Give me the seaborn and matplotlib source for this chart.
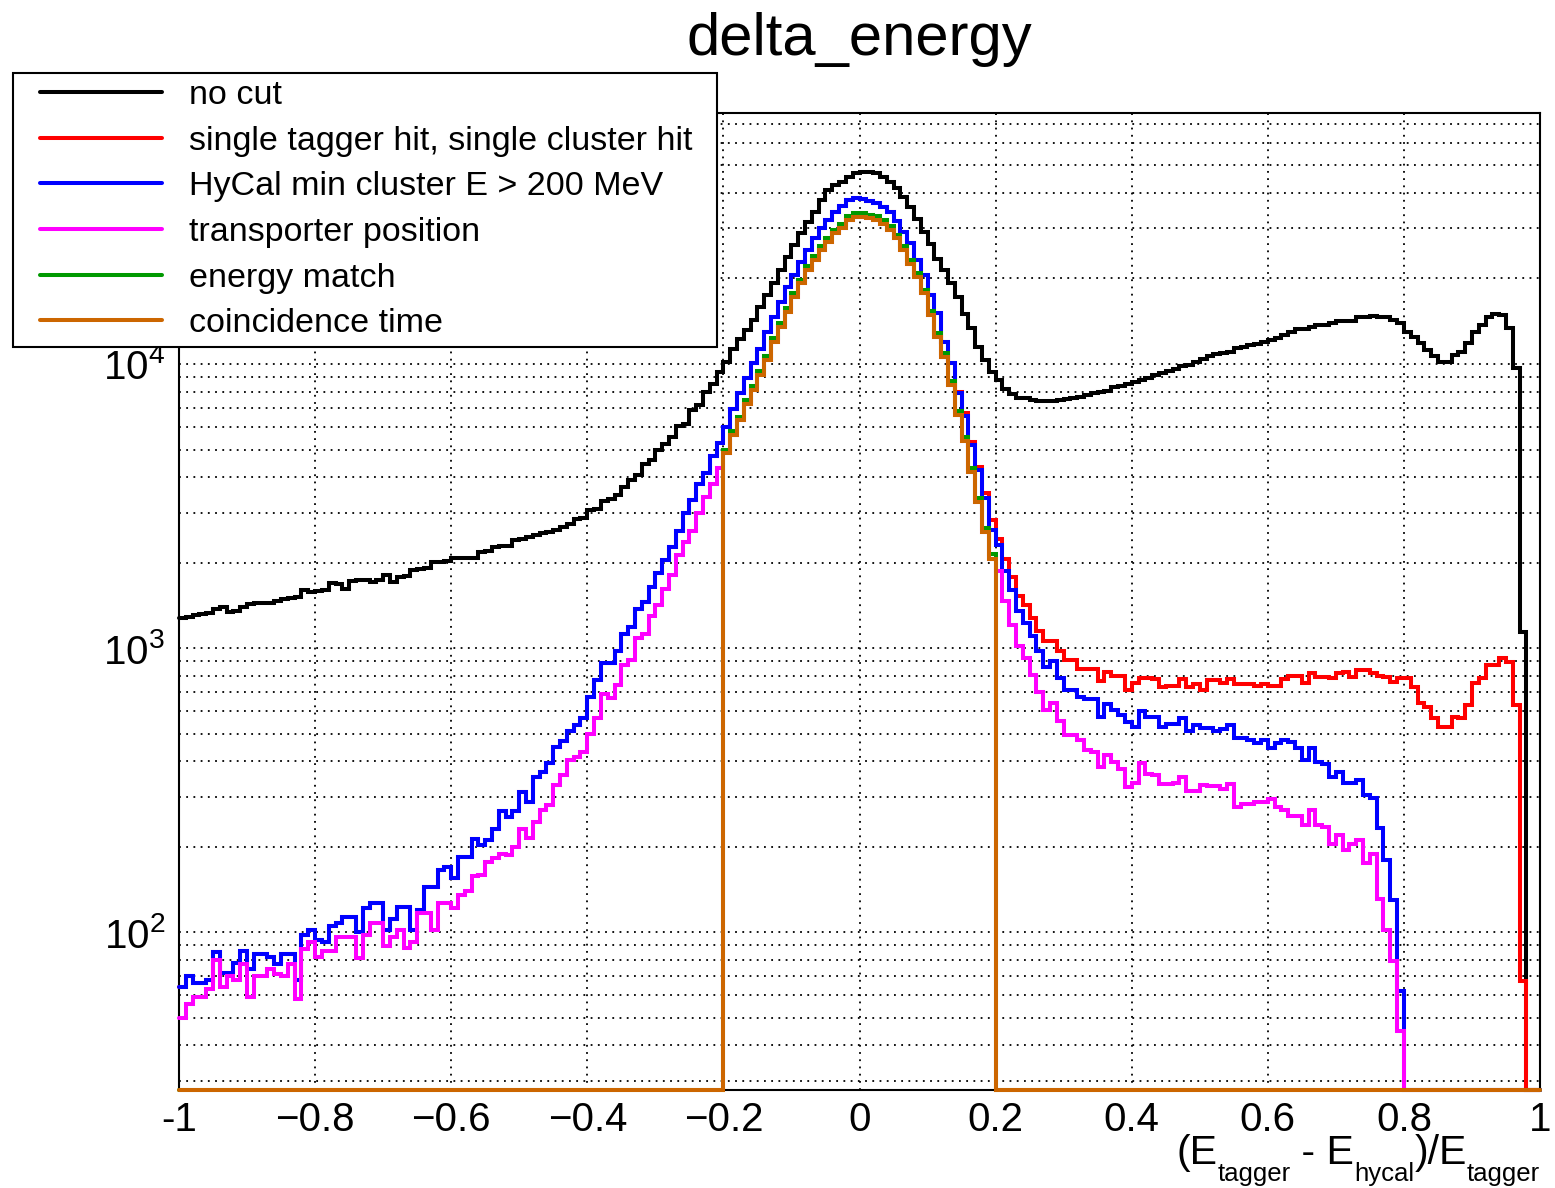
import numpy as np
import pandas as pd
import matplotlib
matplotlib.use("Agg")
import matplotlib.pyplot as plt
import seaborn as sns
from matplotlib.patches import Rectangle
from matplotlib.ticker import FixedLocator, MultipleLocator, LogLocator, NullFormatter

# ---------------- data (counts per bin, 200 bins from -1 to 1) ----------------
TITLE = "delta_energy"
# x-axis title pieces: (text, is_subscript)
X_LABEL_PARTS = [("(E", False), ("tagger", True), (" - E", False), ("hycal", True),
                 (")/E", False), ("tagger", True)]
LABELS = ["no cut", "single tagger hit, single cluster hit", "HyCal min cluster E > 200 MeV",
          "transporter position", "energy match", "coincidence time"]
COLORS = ["#000000", "#ff0000", "#0000ff", "#ff00ff", "#009900", "#cc6600"]
XTICKS = [-1.0, -0.8, -0.6, -0.4, -0.2, 0.0, 0.2, 0.4, 0.6, 0.8, 1.0]
XTICK_LABELS = ["-1", "\u22120.8", "\u22120.6", "\u22120.4", "\u22120.2", "0", "0.2", "0.4", "0.6", "0.8", "1"]
X_RANGE = (-1.0, 1.0)
N_BINS = 200

no_cut = [
    1272, 1289, 1304, 1314, 1331, 1368, 1398, 1342, 1350, 1391,
    1429, 1444, 1444, 1437, 1464, 1484, 1496, 1508, 1600, 1578,
    1587, 1600, 1690, 1680, 1609, 1726, 1736, 1736, 1712, 1736,
    1807, 1712, 1774, 1793, 1882, 1897, 1908, 2013, 2013, 2029,
    2069, 2079, 2079, 2079, 2183, 2195, 2273, 2286, 2292, 2400,
    2414, 2466, 2500, 2534, 2567, 2603, 2674, 2733, 2835, 2879,
    3051, 3099, 3293, 3338, 3454, 3680, 3920, 4060, 4450, 4610,
    5000, 5240, 5530, 6050, 6160, 6870, 7200, 7950, 8530, 9350,
    10200, 11300, 12250, 13200, 14280, 15900, 17490, 19230, 21420, 23860,
    26230, 28850, 31700, 34360, 37770, 40960, 42670, 43840, 45650, 46940,
    47400, 47400, 46940, 45700, 43840, 41540, 38800, 35630, 32400, 29120,
    26470, 23500, 21420, 19230, 17250, 15050, 13350, 11500, 10330, 9390,
    8780, 8150, 7820, 7600, 7600, 7490, 7380, 7380, 7380, 7490,
    7530, 7600, 7660, 7770, 7920, 7990, 8040, 8320, 8390, 8510,
    8630, 8800, 8950, 9130, 9260, 9450, 9610, 9810, 9940, 10150,
    10380, 10680, 10830, 10920, 11050, 11360, 11460, 11680, 11790, 11950,
    12130, 12370, 12650, 13000, 13250, 13250, 13530, 13720, 13720, 13910,
    14170, 14170, 14170, 14600, 14680, 14760, 14680, 14600, 14290, 13910,
    13000, 12480, 11830, 11200, 10670, 10190, 10190, 10760, 11050, 11830,
    13000, 13720, 14680, 15000, 14880, 13350, 9660, 1142, 0, 0]

single_hit = [
    64, 70, 66, 66, 68, 85, 72, 72, 78, 86,
    74, 84, 84, 82, 77, 84, 84, 68, 98, 102,
    94, 92, 105, 108, 113, 113, 100, 122, 127, 127,
    102, 111, 123, 123, 102, 120, 144, 144, 165, 169,
    155, 184, 184, 213, 202, 211, 231, 266, 255, 266,
    312, 288, 352, 367, 394, 450, 470, 510, 535, 566,
    675, 769, 888, 888, 973, 1124, 1187, 1372, 1448, 1643,
    1832, 2043, 2277, 2583, 2987, 3329, 3780, 4130, 4750, 5250,
    6000, 6940, 7910, 8900, 10050, 11280, 13000, 14670, 16570, 18710,
    20580, 22920, 25200, 27700, 30040, 32140, 34370, 35900, 37800, 38320,
    38100, 37600, 36790, 35620, 34370, 31960, 29230, 26600, 23240, 20580,
    17490, 15080, 11980, 10100, 7950, 6700, 5330, 4350, 3510, 2820,
    2430, 2050, 1785, 1525, 1414, 1272, 1150, 1055, 1059, 973,
    907, 907, 844, 844, 844, 765, 821, 798, 798, 712,
    754, 787, 787, 781, 727, 737, 737, 781, 727, 745,
    712, 769, 769, 754, 778, 750, 750, 750, 733, 745,
    733, 733, 780, 800, 800, 751, 815, 792, 792, 782,
    815, 825, 792, 837, 837, 815, 797, 792, 760, 782,
    787, 731, 639, 621, 566, 528, 528, 573, 566, 630,
    751, 782, 871, 871, 920, 895, 630, 67, 0, 0]

min_cluster_e = [
    64, 70, 66, 66, 68, 85, 72, 72, 78, 86,
    74, 84, 84, 82, 77, 84, 84, 68, 98, 102,
    94, 92, 105, 108, 113, 113, 100, 122, 127, 127,
    102, 111, 123, 123, 102, 120, 144, 144, 165, 169,
    155, 184, 184, 213, 202, 211, 231, 266, 255, 266,
    312, 288, 352, 367, 394, 450, 470, 510, 535, 566,
    675, 769, 888, 888, 973, 1124, 1187, 1372, 1448, 1643,
    1832, 2043, 2277, 2583, 2987, 3329, 3780, 4130, 4750, 5250,
    6000, 6940, 7910, 8900, 10050, 11280, 13000, 14670, 16570, 18710,
    20580, 22920, 25200, 27700, 30040, 32140, 34370, 35900, 37800, 38320,
    38100, 37600, 36790, 35620, 34370, 31960, 29230, 26600, 23240, 20580,
    17490, 15080, 11980, 10060, 7890, 6570, 5190, 4240, 3370, 2600,
    2310, 1867, 1598, 1348, 1221, 1105, 973, 860, 897, 787,
    712, 712, 670, 661, 661, 573, 633, 607, 581, 549,
    527, 598, 573, 573, 527, 541, 541, 565, 512, 534,
    522, 522, 512, 520, 534, 484, 484, 476, 464, 474,
    443, 462, 474, 468, 443, 403, 443, 398, 390, 352,
    367, 334, 334, 343, 304, 296, 232, 179, 130, 62,
    0, 0, 0, 0, 0, 0, 0, 0, 0, 0,
    0, 0, 0, 0, 0, 0, 0, 0, 0, 0]

transporter = [
    50, 56, 59, 59, 63, 80, 64, 70, 68, 77,
    59, 70, 70, 74, 71, 70, 77, 58, 87, 92,
    82, 86, 86, 96, 96, 96, 81, 98, 108, 108,
    89, 96, 102, 88, 92, 117, 117, 102, 127, 127,
    122, 135, 140, 157, 159, 177, 183, 189, 187, 200,
    231, 214, 245, 269, 280, 330, 358, 402, 414, 431,
    499, 565, 690, 665, 741, 872, 904, 1084, 1124, 1299,
    1421, 1614, 1812, 2118, 2362, 2583, 2987, 3390, 3780, 4290,
    4850, 5620, 6330, 7220, 8110, 9180, 10330, 11980, 13530, 15280,
    17260, 19230, 21420, 23240, 25200, 26950, 28850, 30200, 32140, 33000,
    33000, 32600, 32140, 31100, 29630, 27700, 25200, 22560, 20300, 17740,
    14870, 12480, 10610, 8430, 6610, 5360, 4180, 3270, 2570, 2060,
    1860, 1470, 1204, 1020, 926, 806, 698, 607, 642, 552,
    495, 495, 474, 436, 430, 382, 421, 396, 375, 324,
    336, 393, 361, 356, 331, 331, 336, 351, 313, 313,
    329, 327, 327, 318, 331, 276, 283, 283, 288, 288,
    293, 276, 269, 256, 256, 238, 269, 238, 235, 204,
    220, 195, 205, 211, 175, 189, 131, 102, 79, 45,
    0, 0, 0, 0, 0, 0, 0, 0, 0, 0,
    0, 0, 0, 0, 0, 0, 0, 0, 0, 0]

energy_match = [0] * 80 + [
    5000, 5790, 6520, 7440, 8350, 9460, 10640, 12340, 13940, 15740,
    17780, 19810, 22060, 23940, 25960, 27760, 29720, 31110, 33100, 33990,
    33990, 33580, 33100, 32030, 30520, 28530, 25960, 23240, 20910, 18270,
    15320, 12850, 10930, 8680, 6810, 5520, 4310, 3370, 2650, 2140] + [0] * 80

coincidence = [0] * 80 + [
    4850, 5620, 6330, 7220, 8110, 9180, 10330, 11980, 13530, 15280,
    17260, 19230, 21420, 23240, 25200, 26950, 28850, 30200, 32140, 33000,
    33000, 32600, 32140, 31100, 29630, 27700, 25200, 22560, 20300, 17740,
    14870, 12480, 10610, 8430, 6610, 5360, 4180, 3270, 2570, 2060] + [0] * 80

SERIES = [no_cut, single_hit, min_cluster_e, transporter, energy_match, coincidence]

# ---------------- style / layout ----------------
W, H = 1555, 1188
Y_MIN, Y_MAX = 27.8, 76500.0

sns.set_style("white")
plt.rcParams["font.family"] = ["Liberation Sans", "DejaVu Sans"]
plt.rcParams["mathtext.fontset"] = "custom"
plt.rcParams["mathtext.rm"] = "Liberation Sans"
plt.rcParams["mathtext.it"] = "Liberation Sans:italic"
plt.rcParams["mathtext.bf"] = "Liberation Sans:bold"
for k in ["text.color", "axes.labelcolor", "xtick.color", "ytick.color", "axes.edgecolor"]:
    plt.rcParams[k] = "black"

fig = plt.figure(figsize=(W / 100, H / 100), dpi=100)
fig.patch.set_facecolor("white")
ax = fig.add_axes([179 / W, 1 - 1090 / H, (1540 - 179) / W, (1090 - 113) / H])
ax.set_facecolor("white")

edges = np.linspace(X_RANGE[0], X_RANGE[1], N_BINS + 1)

for label, vals, color in zip(LABELS, SERIES, COLORS):
    y = np.maximum(np.asarray(vals, dtype=float), Y_MIN)
    df = pd.DataFrame({"x": edges, "y": np.append(y, y[-1])})
    sns.lineplot(data=df, x="x", y="y", ax=ax, color=color, linewidth=2.9,
                 drawstyle="steps-post", estimator=None, sort=False, label=label,
                 clip_on=False, solid_joinstyle="miter", zorder=3)

ax.set_yscale("log")
ax.set_xlim(*X_RANGE)
ax.set_ylim(Y_MIN, Y_MAX)
ax.set_xlabel("")
ax.set_ylabel("")

ax.xaxis.set_major_locator(FixedLocator(XTICKS))
ax.set_xticklabels(XTICK_LABELS)
ax.xaxis.set_minor_locator(MultipleLocator(0.05))
ax.yaxis.set_major_locator(LogLocator(base=10, numticks=20))
ax.yaxis.set_minor_locator(LogLocator(base=10, subs=np.arange(2, 10), numticks=60))
ax.yaxis.set_minor_formatter(NullFormatter())

ax.tick_params(axis="both", which="both", direction="in", top=False, right=False, color="black",
               labelcolor="black")
ax.tick_params(axis="x", which="major", length=21, width=1.2, labelsize=29, pad=8)
ax.tick_params(axis="x", which="minor", length=9, width=1.2)
ax.tick_params(axis="y", which="major", length=27, width=1.2, labelsize=29, pad=10)
ax.tick_params(axis="y", which="minor", length=14, width=1.2)

grid_kw = dict(color="black", linestyle=(0, (1, 3)), linewidth=1.3)
ax.grid(True, axis="x", which="major", **grid_kw)
ax.grid(True, axis="y", which="both", **grid_kw)
ax.set_axisbelow(True)

for s in ax.spines.values():
    s.set_visible(True)
    s.set_linewidth(1.5)
    s.set_color("black")

fig.text(859.5 / W, 1 - 55 / H, TITLE, ha="center", va="baseline", fontsize=43, color="black")

# x-axis title, ROOT style with deep subscripts, right-aligned to the axis end
renderer = fig.canvas.get_renderer()
pieces = []
for txt, is_sub in X_LABEL_PARTS:
    t = fig.text(0, 0, txt, fontsize=18.5 if is_sub else 29.5, ha="left", va="baseline",
                 color="black")
    w = t.get_window_extent(renderer=renderer).width
    pieces.append((t, w, is_sub))
total = sum(p[1] for p in pieces)
x_px = 1540 - total
for t, w, is_sub in pieces:
    base = 1181 if is_sub else 1164
    t.set_position((x_px / W, 1 - base / H))
    x_px += w

handles, labels = ax.get_legend_handles_labels()
if ax.get_legend() is not None:
    ax.get_legend().remove()
fig.add_artist(Rectangle((13 / W, 1 - 347 / H), 704 / W, 274 / H, transform=fig.transFigure,
                         facecolor="white", edgecolor="black", linewidth=1.5, zorder=4))
leg = fig.legend(handles, labels, loc="upper left", bbox_to_anchor=(40 / W, 1 - 80 / H),
                 frameon=False, fontsize=24.5, handlelength=3.59, handletextpad=0.79,
                 labelspacing=0.43, borderpad=0, borderaxespad=0)
for txt in leg.get_texts():
    txt.set_color("black")
leg.set_zorder(5)

fig.savefig("out.png", dpi=100)
